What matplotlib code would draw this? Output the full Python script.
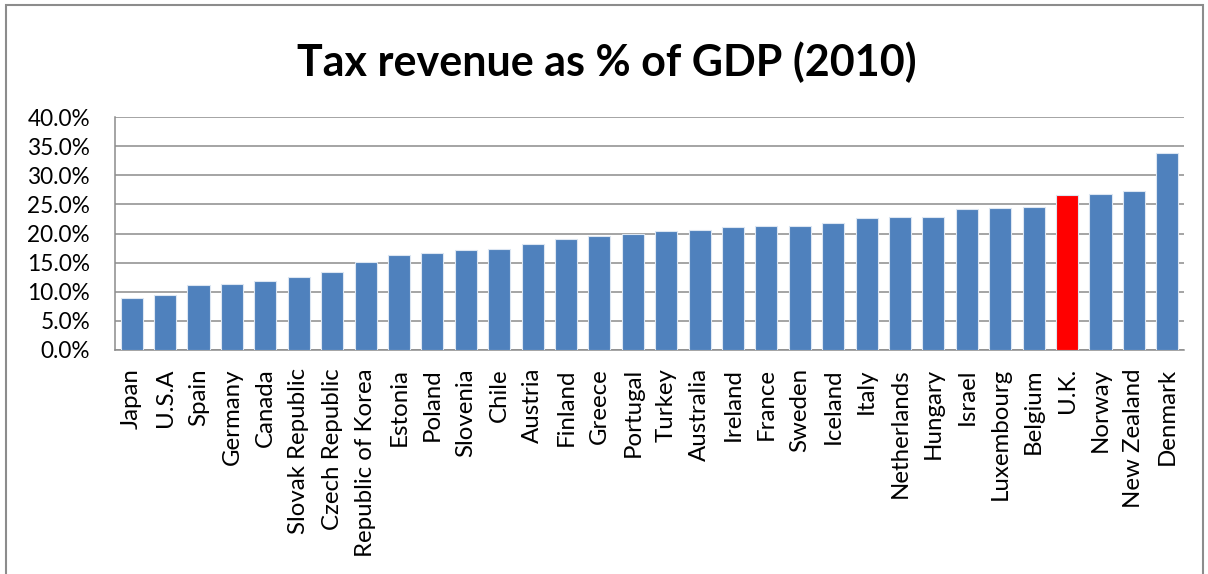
import matplotlib
matplotlib.use("Agg")
import matplotlib.pyplot as plt
from matplotlib.patches import Rectangle
from matplotlib.ticker import PercentFormatter

countries = ["Japan", "U.S.A", "Spain", "Germany", "Canada", "Slovak Republic",
             "Czech Republic", "Republic of Korea", "Estonia", "Poland", "Slovenia",
             "Chile", "Austria", "Finland", "Greece", "Portugal", "Turkey",
             "Australia", "Ireland", "France", "Sweden", "Iceland", "Italy",
             "Netherlands", "Hungary", "Israel", "Luxembourg", "Belgium", "U.K.",
             "Norway", "New Zealand", "Denmark"]
tax_pct = [8.9, 9.4, 11.2, 11.4, 11.8, 12.5, 13.4, 15.1, 16.3, 16.7, 17.1,
           17.3, 18.2, 19.1, 19.5, 20.0, 20.4, 20.6, 21.1, 21.3, 21.3, 21.8,
           22.6, 22.9, 22.9, 24.2, 24.4, 24.6, 26.6, 26.8, 27.3, 33.9]
highlight = "U.K."
y_ticks = [0, 5, 10, 15, 20, 25, 30, 35, 40]

FONT = ["Lato", "DejaVu Sans"]
plt.rcParams["font.family"] = FONT

W, H = 1208, 574
fig = plt.figure(figsize=(W / 100, H / 100), dpi=100)
ax = fig.add_axes([115 / W, 1 - 350 / H, (1184 - 115) / W, (350 - 117) / H])

colors = ["#FF0000" if c == highlight else "#4F81BD" for c in countries]
x = range(len(countries))
ax.bar(x, tax_pct, width=0.66, color=colors, edgecolor="#DCE6F2",
       linewidth=0.8, zorder=3)

ax.set_xlim(-0.5, len(countries) - 0.5)
ax.set_ylim(0, 40)
ax.set_yticks(y_ticks)
ax.yaxis.set_major_formatter(PercentFormatter(decimals=1))
ax.set_xticks(list(x))
ax.set_xticklabels(countries, rotation=90, va="top", ha="center")
ax.tick_params(axis="both", length=0, colors="#000000")
ax.tick_params(axis="y", pad=18, labelsize=16.3)
ax.tick_params(axis="x", pad=13, labelsize=17.3)

ax.grid(axis="y", color="#8C8C8C", linewidth=1.1, zorder=0)
for side in ["top", "right"]:
    ax.spines[side].set_visible(False)
for side in ["left", "bottom"]:
    ax.spines[side].set_color("#8C8C8C")
    ax.spines[side].set_linewidth(1.1)

fig.text(607 / W, 1 - 62 / H, "Tax revenue as % of GDP (2010)",
         ha="center", va="center", fontsize=31, fontweight="bold")

# chart border
fig.patches.append(Rectangle((6 / W, -0.05), (1203 - 6) / W, 1.05 - 5 / H,
                             transform=fig.transFigure, fill=False,
                             edgecolor="#8C8C8C", linewidth=1.5))

fig.savefig("out.png", dpi=100)
